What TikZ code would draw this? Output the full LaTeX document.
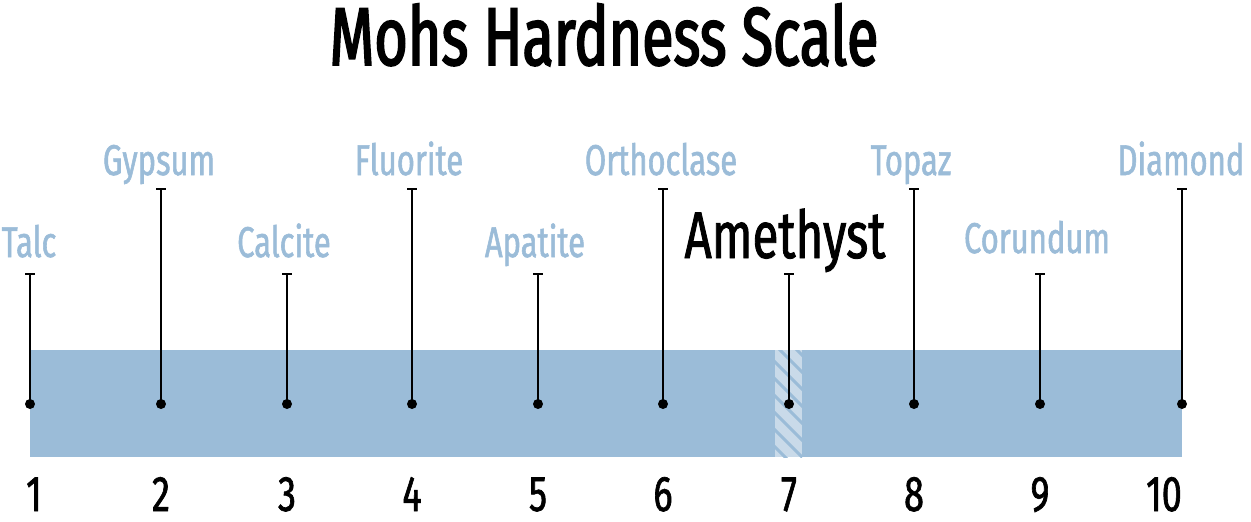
\documentclass[tikz,border=0pt]{standalone}
\usepackage{fontspec}
\setmainfont[FakeStretch=0.72]{Fira Sans}
\newfontfamily\mcond[FakeStretch=0.72,FakeBold=1.3]{Fira Sans}
\newfontfamily\tcond[FakeStretch=0.70,FakeBold=2.2]{Fira Sans}
\definecolor{barblue}{HTML}{9BBCD8}
\definecolor{hatchbg}{HTML}{C9DAE9}
\begin{document}
\begin{tikzpicture}[x=1pt,y=-1pt,
  lbl/.style={anchor=base,inner sep=0pt,text=barblue,font=\mcond\fontsize{43}{43}\selectfont},
  num/.style={anchor=base,inner sep=0pt,text=black,font=\mcond\fontsize{50}{50}\selectfont},
  stem/.style={line width=1.4pt,black},
  dot/.style={circle,fill=black,inner sep=0pt,minimum size=10pt}]
\useasboundingbox (0,0) rectangle (1251,522);
\node[anchor=base,inner sep=0pt,font=\tcond\fontsize{82}{82}\selectfont] (title) at (604,65) {Mohs Hardness Scale};
% bar
\fill[barblue] (30,350) rectangle (1182,457);
\begin{scope}
\clip (775,350) rectangle (802,457);
\fill[hatchbg] (775,350) rectangle (802,457);
\foreach \k in {-3,...,8} {
  \draw[barblue,line width=3pt] (770,340+\k*17) -- (810,380+\k*17);
}
\end{scope}
% stems
\foreach \i/\x/\top in {1/30/274,2/161/189,3/287/274,4/412/189,5/538/274,6/663/189,7/789/274,8/914/189,9/1040/274,10/1182/189} {
  \node[dot] (d\i) at (\x,404) {};
  \coordinate (t\i) at (\x,\top);
  \draw[stem] (d\i.center) -- (t\i);
  \draw[stem] ([xshift=-5pt]t\i) -- ([xshift=5pt]t\i);
}
% labels
\node[lbl] (l1) at (29,257) {Talc};
\node[lbl] (l2) at (159,175) {Gypsum};
\node[lbl] (l3) at (284,257) {Calcite};
\node[lbl] (l4) at (409,175) {Fluorite};
\node[lbl] (l5) at (535,257) {Apatite};
\node[lbl] (l6) at (661,175) {Orthoclase};
\node[anchor=base,inner sep=0pt,font=\mcond\fontsize{66}{66}\selectfont] (l7) at (785,258) {Amethyst};
\node[lbl] (l8) at (911,175) {Topaz};
\node[lbl] (l9) at (1037,253) {Corundum};
\node[lbl] (l10) at (1181,175) {Diamond};
% numbers
\foreach \i/\x in {1/34,2/161,3/287,4/412,5/538,6/663,7/789,8/914,9/1040,10/1164} {
  \node[num] (n\i) at (\x,511) {\i};
}
\end{tikzpicture}
\end{document}
